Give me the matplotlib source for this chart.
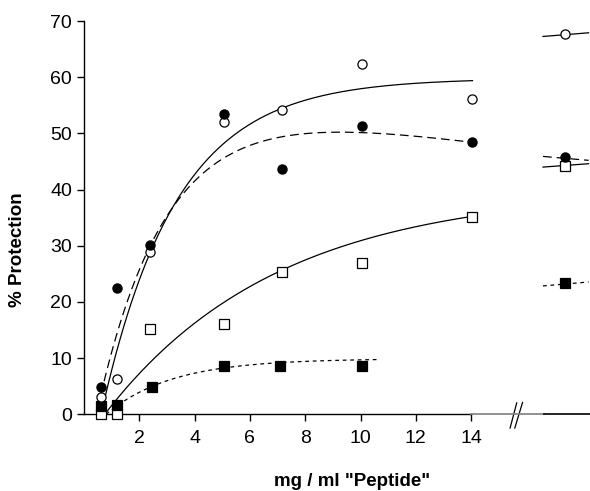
import numpy as np
import matplotlib
matplotlib.use("Agg")
import matplotlib.pyplot as plt
from matplotlib.transforms import blended_transform_factory

plt.rcParams['font.family'] = ['Liberation Sans', 'DejaVu Sans']

# ---------------- data ----------------
conc = [0.6, 1.2, 2.4, 5.05, 7.15, 10.05, 14.05]
open_circles = [3.1, 6.3, 28.9, 52.1, 54.1, 62.3, 56.2]
filled_circles = [4.8, 22.5, 30.2, 53.5, 43.6, 51.3, 48.4]
open_squares = [0.0, 0.0, 15.1, 16.1, 25.3, 26.9, 35.1]
conc_fs = [0.6, 1.2, 2.45, 5.05, 7.1, 10.05]
filled_squares = [1.5, 1.65, 4.9, 8.6, 8.6, 8.6]

# value at the separate (broken-axis) concentration
break_x = 17.4
break_open_circle = 67.6
break_filled_circle = 45.75
break_open_square = 44.2
break_filled_square = 23.3
# short fit segments around the broken-axis point (left value, right value)
seg_x = [16.6, 18.25]
seg_open_circle = [67.25, 67.9]
seg_filled_circle = [45.9, 45.2]
seg_open_square = [44.0, 44.6]
seg_filled_square = [22.85, 23.55]

# fitted-curve parameters
# y = A*(1-exp(-k*(x-x0))) - c*(x-x0), drawn from xs to xe
fit_oc = dict(A=59.8, k=0.37, c=0.0, x0=0.62, xs=0.62, xe=14.05)
fit_fc = dict(A=57.93, k=0.40, c=0.682, x0=0.45, xs=0.5, xe=14.05)
fit_os = dict(A=40.0, k=0.16, c=0.0, x0=0.75, xs=0.75, xe=14.0)
fit_fs = dict(A=9.9, k=0.42, c=0.0, x0=0.8, xs=0.8, xe=10.6)

xticks = [2, 4, 6, 8, 10, 12, 14]
yticks = [0, 10, 20, 30, 40, 50, 60, 70]


def curve(p):
    x = np.linspace(p['xs'], p['xe'], 300)
    t = x - p['x0']
    return x, p['A'] * (1 - np.exp(-p['k'] * t)) - p['c'] * t


W, H = 590, 491
fig = plt.figure(figsize=(W / 100, H / 100), dpi=100)
L, R, B, T = 84, 590, 414.3, 21
ax = fig.add_axes([L / W, 1 - B / H, (R - L) / W, (B - T) / H])
ax.set_xlim(0, 18.3)
ax.set_ylim(0, 70)

lw = 0.9
solid = dict(color='black', lw=lw, linestyle='-')
dashed = dict(color='black', lw=lw, linestyle=(0, (7, 4)))
dotted = dict(color='black', lw=lw, linestyle=(0, (3, 3)))

# fitted curves
x, y = curve(fit_oc); ax.plot(x, y, **solid)
x, y = curve(fit_fc); ax.plot(x, y, **dashed)
x, y = curve(fit_os); ax.plot(x, y, **solid)
x, y = curve(fit_fs); ax.plot(x, y, **dotted)

# break segments
ax.plot(seg_x, seg_open_circle, **solid)
ax.plot(seg_x, seg_filled_circle, **dashed)
ax.plot(seg_x, seg_open_square, **solid)
ax.plot(seg_x, seg_filled_square, **dotted)

ms_c, ms_s, mew = 6.6, 6.6, 0.9
oc = dict(marker='o', ms=ms_c, mfc='white', mec='black', mew=mew, ls='none', clip_on=False, zorder=5)
fc = dict(marker='o', ms=ms_c, mfc='black', mec='black', mew=mew, ls='none', clip_on=False, zorder=5)
osq = dict(marker='s', ms=ms_s, mfc='white', mec='black', mew=mew, ls='none', clip_on=False, zorder=5)
fsq = dict(marker='s', ms=ms_s, mfc='black', mec='black', mew=mew, ls='none', clip_on=False, zorder=5)

ax.plot(conc, open_squares, **osq)
ax.plot(conc_fs, filled_squares, **fsq)
ax.plot(conc, open_circles, **oc)
ax.plot(conc, filled_circles, **fc)
ax.plot([break_x], [break_open_square], **osq)
ax.plot([break_x], [break_filled_square], **fsq)
ax.plot([break_x], [break_open_circle], **oc)
ax.plot([break_x], [break_filled_circle], **fc)

# spines / axes
for s in ['top', 'right']:
    ax.spines[s].set_visible(False)
ax.spines['left'].set_linewidth(1.0)
ax.spines['bottom'].set_linewidth(1.0)
ax.spines['bottom'].set_bounds(0, 14)
ax.plot([14, 16.65], [0, 0], color='#7f7f7f', lw=1.2, clip_on=False, zorder=3)
ax.plot([16.65, 18.3], [0, 0], color='black', lw=1.2, clip_on=False, zorder=3)

# axis break marks
tr = blended_transform_factory(ax.transData, ax.transAxes)
ax.plot([15.41, 15.65], [-0.035, 0.029], color='black', lw=0.9, transform=tr, clip_on=False)
ax.plot([15.58, 15.86], [-0.035, 0.030], color='black', lw=0.9, transform=tr, clip_on=False)

ax.set_xticks(xticks)
ax.set_yticks(yticks)
ax.tick_params(axis='both', direction='out', length=5, width=1.0, labelsize=14)
ax.tick_params(axis='x', pad=6.5)
ax.tick_params(axis='y', pad=3.5)

ax.set_xlabel('mg / ml "Peptide"', fontsize=13.5, fontweight='bold')
ax.set_ylabel('% Protection', fontsize=13.5, fontweight='bold')
ax.xaxis.label.set_va('center')
ax.yaxis.label.set_va('center')
ax.xaxis.set_label_coords((352.5 - L) / (R - L), (B - 482) / (B - T))
ax.yaxis.set_label_coords((17.5 - L) / (R - L), (B - 250) / (B - T))

fig.savefig('out.png', dpi=100)
